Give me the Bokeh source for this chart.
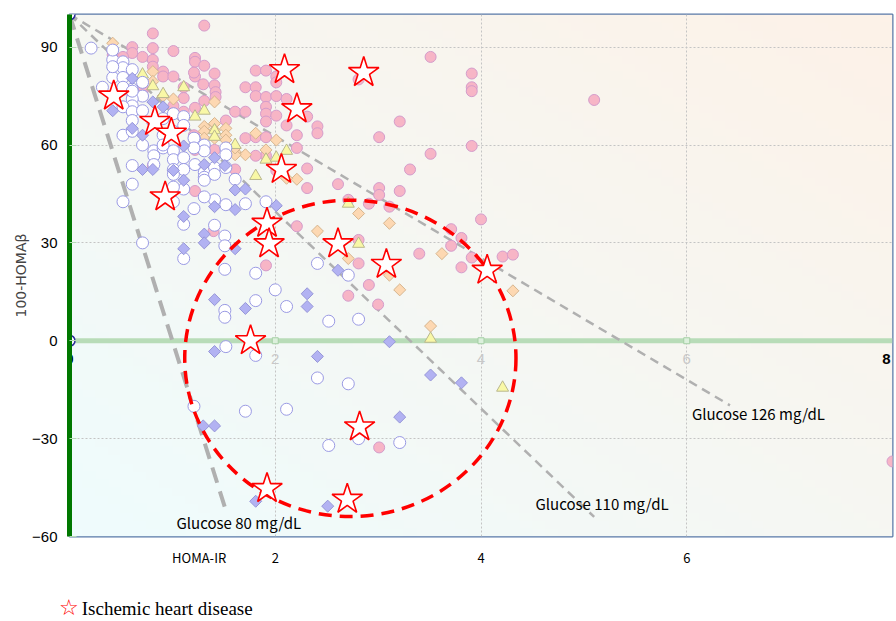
import numpy as np
from bokeh.plotting import figure
from bokeh.layouts import column
from bokeh.models import Range1d, FixedTicker, Span, Div
from bokeh.core.properties import value
from bokeh.embed import file_html
from bokeh.resources import INLINE

# ---------------- data ----------------
# Diabetes-range group (pink circles)
pink_x = [1.31, 0.81, 0.61, 0.61, 0.81, 1.01, 0.42, 0.52, 0.71, 0.81, 0.81, 0.91, 0.91, 1.01, 1.22, 1.22,
          1.31, 1.41, 1.22, 1.11, 1.11, 1.41, 1.31, 1.22, 1.61, 1.71, 1.52, 1.71, 1.81, 1.91, 1.61, 1.22,
          1.81, 1.91, 1.71, 1.81, 1.81, 1.91, 2.01, 2.11, 1.91, 1.91, 1.91, 2.01, 2.11, 2.21, 2.21, 0.61,
          0.71, 0.71, 0.81, 1.22, 1.41, 1.91, 2.01, 3.51, 3.91, 3.91, 3.91, 3.21, 3.01, 3.91, 3.51, 3.31,
          2.61, 3.01, 3.01, 3.21, 2.91, 3.11, 2.71, 2.31, 2.31, 2.41, 2.41, 2.31, 1.81, 1.40, 2.21, 1.91,
          2.81, 4.00, 3.71, 3.81, 3.71, 3.40, 3.91, 4.21, 4.31, 3.81, 2.81, 2.91, 2.71, 3.00, 3.01, 5.10,
          8.00, 1.21, 1.30, 1.42, 1.42, 1.11, 1.21, 1.01, 2.01, 2.01, 2.81]
pink_y = [96.6, 94.2, 90.0, 88.2, 89.7, 88.8, 87.6, 87.0, 87.0, 86.1, 84.0, 82.5, 81.0, 81.0, 86.7, 85.5,
          84.3, 81.9, 81.0, 77.7, 74.4, 78.3, 73.5, 71.4, 70.2, 70.2, 67.5, 62.1, 62.4, 62.4, 52.5, 45.9,
          82.8, 82.8, 77.7, 77.7, 75.0, 74.7, 75.0, 74.1, 71.7, 69.6, 67.2, 69.0, 66.0, 63.0, 59.1, 75.0,
          76.5, 78.0, 53.7, 58.5, 58.5, 56.7, 52.2, 87.0, 81.9, 77.7, 76.5, 67.2, 62.4, 59.7, 57.3, 52.5,
          48.0, 46.8, 44.7, 45.9, 42.0, 41.1, 43.2, 46.8, 52.8, 65.7, 63.6, 68.7, 56.7, 33.6, 35.1, 23.1,
          30.9, 37.2, 34.2, 31.5, 29.1, 26.7, 25.5, 25.8, 26.4, 22.5, 23.7, 17.1, 13.8, 11.1, -32.7, 73.8,
          -37.0, 82.2, 78.6, 76.2, 74.7, 70.2, 63.0, 72.0, 81.0, 79.2, 80.1]

# Peach diamonds
peach_x = [0.42, 0.81, 0.81, 0.91, 1.01, 1.41, 1.31, 1.41, 1.41, 1.52, 1.52, 1.61, 1.71, 1.81, 1.91, 2.01,
           2.21, 1.31, 1.31, 1.41, 1.52, 1.61, 2.11, 1.61, 2.81, 3.11, 2.41, 2.71, 3.11, 3.21, 3.62, 4.31, 3.51]
peach_y = [91.2, 82.5, 79.5, 75.0, 74.1, 73.2, 65.7, 66.6, 64.5, 65.1, 63.0, 57.9, 57.0, 63.6, 58.5, 61.5,
           49.5, 64.2, 62.1, 62.1, 61.5, 57.0, 49.8, 59.1, 39.0, 36.0, 33.6, 25.2, 20.1, 15.6, 26.7, 15.3, 4.5]

# Yellow triangles
tri_x = [0.71, 0.81, 0.91, 1.11, 1.22, 1.31, 1.41, 1.41, 1.61, 1.81, 1.91, 2.01, 2.11, 2.81, 2.71, 3.51, 4.21]
tri_y = [81.6, 78.0, 75.6, 77.7, 68.7, 70.5, 64.5, 62.5, 60.0, 50.5, 55.5, 56.1, 58.2, 29.7, 42.0, 0.6, -14.4]

# Blue diamonds
blue_x = [0.61, 0.42, 0.81, 0.91, 0.81, 0.71, 1.11, 0.71, 1.31, 1.41, 1.11, 1.61, 1.71, 1.41, 1.61, 2.01,
          0.61, 1.01, 1.51, 0.81, 1.11, 1.31, 1.31, 1.11, 1.61, 1.41, 1.71, 2.61, 2.31, 2.31, 1.41, 2.41,
          3.11, 3.51, 3.81, 3.21, 1.30, 1.41, 1.81, 2.51, 0.82]
blue_y = [80.4, 70.5, 73.2, 71.7, 66.6, 63.0, 59.7, 52.5, 54.0, 56.1, 49.2, 46.2, 46.5, 41.1, 40.2, 41.4,
          65.1, 52.2, 53.7, 52.5, 38.1, 32.7, 30.0, 28.2, 28.2, 12.6, 9.9, 21.6, 14.4, 10.5, -3.3, -4.8,
          -0.3, -10.5, -12.9, -23.4, -26.1, -26.1, -49.2, -50.7, 67.2]

# White (open) circles
white_x = [0.21, 0.42, 0.52, 0.52, 0.61, 0.71, 0.61, 0.52, 0.71, 0.61, 0.61, 0.52, 0.61, 0.52, 0.71, 0.61,
           0.91, 1.01, 1.11, 1.11, 1.01, 0.91, 0.82, 0.82, 0.91, 1.01, 1.01, 1.01, 1.11, 1.11, 1.22, 1.22,
           1.31, 1.31, 1.22, 1.31, 1.31, 1.41, 1.52, 1.52, 1.52, 1.61, 1.71, 1.91, 1.52, 1.41, 1.11, 1.01,
           0.61, 0.61, 0.52, 0.42, 0.32, 0.42, 0.52, 0.52, 0.61, 0.71, 0.82, 0.91, 1.21, 1.21, 1.01, 1.41,
           1.31, 1.11, 1.11, 1.21, 1.31, 1.41, 1.51, 1.51, 1.51, 0.71, 1.81, 2.00, 1.81, 1.51, 1.51, 1.01,
           2.41, 2.71, 2.11, 2.52, 2.81, 1.52, 1.81, 2.41, 2.71, 1.21, 1.71, 2.11, 2.52, 2.81, 3.21, 0.42, 0.61]
white_y = [89.7, 86.1, 85.5, 83.7, 83.1, 79.2, 77.1, 77.1, 75.0, 74.1, 72.0, 71.7, 70.2, 63.0, 60.0, 64.2,
           68.1, 69.6, 68.7, 66.0, 64.2, 63.0, 58.2, 56.7, 59.1, 58.2, 55.5, 52.5, 56.1, 52.5, 61.5, 60.0,
           60.0, 58.2, 54.0, 51.6, 50.1, 53.1, 59.1, 57.0, 53.1, 49.5, 42.0, 42.6, 41.7, 43.2, 46.5, 51.0,
           53.7, 48.0, 42.6, 89.1, 77.7, 80.7, 80.7, 77.7, 76.5, 70.5, 54.0, 60.0, 62.1, 59.1, 47.1, 51.0,
           49.2, 35.7, 25.2, 40.5, 44.1, 35.4, 32.1, 29.1, 21.9, 30.0, 20.7, 15.6, 12.3, 9.3, 7.2, 42.6,
           23.7, 20.1, 10.5, 6.0, 6.6, -1.8, -4.5, -11.4, -13.2, -20.1, -21.6, -21.0, -32.1, -30.0, -31.2, 84.0, 67.5]

# Axis anchor points
anchor_x = [0.0, 0.0]
anchor_y = [100.0, 0.0]

# Ischemic heart disease cases (stars)
ihd_x = [0.43, 0.83, 0.99, 0.93, 2.09, 2.86, 2.21, 2.06, 1.92, 1.94, 2.61, 3.08, 4.06, 1.76, 2.82, 1.92, 2.70]
ihd_y = [75.0, 67.2, 63.6, 44.1, 83.1, 82.2, 71.1, 52.5, 36.0, 29.7, 29.7, 23.4, 21.6, 0.0, -26.4, -45.3, -48.6]

# Iso-glucose reference lines (start, end) and their labels
iso_names = ["Glucose 80 mg/dL", "Glucose 110 mg/dL", "Glucose 126 mg/dL"]
iso_x0 = [0.0, 0.0, 0.0]
iso_y0 = [100.0, 100.0, 100.0]
iso_x1 = [1.52, 5.10, 6.42]
iso_y1 = [-52.0, -54.0, -19.8]
iso_label_x = [1.04, 4.53, 6.05]
iso_label_y = [-55.8, -49.8, -22.2]

# Highlighted region (ellipse)
region_cx, region_cy = 2.73, -5.4
region_w, region_h = 3.22, 97.0

x_ticks = [2, 4, 6]
x_title = "HOMA-IR"
x_title_pos = 1.26
y_ticks = [-60, -30, 0, 30, 60, 90]
inner_ticks = [2, 4, 6]
legend_label = "Ischemic heart disease"

# ---------------- main figure ----------------
p = figure(width=894, height=569, x_range=Range1d(0, 8), y_range=Range1d(-60, 100),
           output_backend="svg", toolbar_location=None,
           min_border_left=69, min_border_right=2, min_border_top=14, min_border_bottom=22)
p.background_fill_color = "white"
p.border_fill_color = "white"
p.outline_line_color = "#5878a8"
p.outline_line_width = 2

# gradient background
N = 64
u = np.linspace(0, 1, N)
U, V = np.meshgrid(u, u)
t = (U + V) / 2.0
c0 = np.array([239, 252, 253], dtype=float)
c1 = np.array([253, 242, 232], dtype=float)
rgb = c0[None, None, :] + (c1 - c0)[None, None, :] * t[..., None]
img = np.empty((N, N), dtype=np.uint32)
view = img.view(dtype=np.uint8).reshape((N, N, 4))
view[..., 0] = rgb[..., 0].astype(np.uint8)
view[..., 1] = rgb[..., 1].astype(np.uint8)
view[..., 2] = rgb[..., 2].astype(np.uint8)
view[..., 3] = 255
p.image_rgba(image=[img], x=0, y=-60, dw=8, dh=160, level="image")

# grids
p.xgrid.ticker = FixedTicker(ticks=x_ticks)
p.ygrid.ticker = FixedTicker(ticks=[-30, 30, 60, 90])
for g in (p.xgrid, p.ygrid):
    g.grid_line_color = "#c4c4c4"
    g.grid_line_dash = "2 2"
    g.grid_line_width = 1

# axes
p.xaxis.ticker = FixedTicker(ticks=[x_title_pos] + x_ticks)
p.xaxis.major_label_overrides = {x_title_pos: x_title}
p.xaxis.axis_line_color = None
p.xaxis.major_tick_line_color = None
p.xaxis.minor_tick_line_color = None
p.xaxis.major_label_text_font = "Noto Sans CJK JP"
p.xaxis.major_label_text_font_size = "13px"
p.xaxis.major_label_text_color = "black"
p.xaxis.major_label_standoff = 5

p.yaxis.ticker = FixedTicker(ticks=y_ticks)
p.yaxis.axis_line_color = "#007800"
p.yaxis.axis_line_width = 5
p.yaxis.major_tick_in = 7
p.yaxis.major_tick_out = 0
p.yaxis.major_tick_line_color = "#b5dab5"
p.yaxis.minor_tick_line_color = None
p.yaxis.major_label_text_font = "Liberation Sans"
p.yaxis.major_label_text_font_size = "15px"
p.yaxis.major_label_text_color = "black"
p.yaxis.major_label_standoff = 12
p.yaxis.major_label_overrides = {-30: "\u221230", -60: "\u221260"}
p.yaxis.axis_label = "100-HOMA\u03b2"
p.yaxis.axis_label_text_font = "DejaVu Sans"
p.yaxis.axis_label_text_font_style = "normal"
p.yaxis.axis_label_text_font_size = "14px"
p.yaxis.axis_label_standoff = 0

# inner zero axis
p.add_layout(Span(location=0, dimension="width", line_color="#b8dcb8", line_width=5, level="underlay"))
p.scatter(x=inner_ticks, y=[0] * len(inner_ticks), marker="square", size=6,
          fill_color="#dcf0dc", line_color="#a5cfa5", line_width=1)
p.text(x=inner_ticks, y=[-5.6] * len(inner_ticks), text=[str(v) for v in inner_ticks],
       text_color="#c8c8c8", text_font=value("Liberation Sans"), text_font_size="15px",
       text_align="center", text_baseline="middle")
p.text(x=[0], y=[-5.6], text=["0"], text_color="black",
       text_font=value("Liberation Sans"), text_font_size="15px", text_font_style="bold",
       text_align="center", text_baseline="middle")
p.text(x=[8], y=[-5.6], text=["8"], text_color="black",
       text_font=value("Liberation Sans"), text_font_size="15px", text_font_style="bold",
       text_align="right", text_baseline="middle", x_offset=-2)

# iso-glucose lines
dashes = ["16 9", "9 6", "9 6"]
widths = [4, 2.5, 2.5]
for i in range(3):
    p.line([iso_x0[i], iso_x1[i]], [iso_y0[i], iso_y1[i]], line_color="#b0b0b0",
           line_width=widths[i], line_dash=dashes[i])
p.text(x=iso_label_x, y=iso_label_y, text=iso_names, text_color="black",
       text_font=value("Noto Sans CJK JP"), text_font_size="15px",
       text_align="left", text_baseline="middle")

# scatter groups
p.scatter(pink_x, pink_y, marker="circle", size=11, fill_color="#f7b5c6", line_color="#d49ccb", line_width=1)
p.scatter(peach_x, peach_y, marker="square", angle=np.pi / 4, size=8.5, fill_color="#fdd8b2",
          line_color="#d6b58e", line_width=1)
p.scatter(tri_x, tri_y, marker="triangle", size=12, fill_color="#f9f8a6", line_color="#b9b78e", line_width=1)
p.scatter(white_x, white_y, marker="circle", size=12, fill_color="white", line_color="#9a9ae4", line_width=1)
p.scatter(blue_x, blue_y, marker="square", angle=np.pi / 4, size=8.5, fill_color="#b2b2f2",
          line_color="#9696d8", line_width=1)
p.scatter(anchor_x, anchor_y, marker="circle", size=11, fill_color="white", line_color="#2a2a9a", line_width=1.5)

# highlighted region
p.ellipse(x=region_cx, y=region_cy, width=region_w, height=region_h, fill_color=None,
          line_color="#ff0000", line_width=3.5, line_dash="13 8")

# stars
p.scatter(ihd_x, ihd_y, marker="star", size=32, fill_color="white",
          line_color="#ff0000", line_width=1.6)

# ---------------- legend strip (below the chart) ----------------
legend_html = (
    '<div style="padding:28px 0 0 59px; font-family:\'Liberation Serif\', serif; '
    'font-size:19px; line-height:22px; color:black; white-space:nowrap;">'
    '<span style="color:#ff0000; font-family:\'DejaVu Sans\'; font-size:22px;">\u2606</span>'
    '<span style="margin-left:3px;">' + legend_label + '</span></div>'
)
legend_div = Div(text=legend_html, width=894, height=50, margin=(0, 0, 0, 0))

layout = column(p, legend_div, spacing=0)
open("out.html", "w").write(file_html(layout, INLINE))
